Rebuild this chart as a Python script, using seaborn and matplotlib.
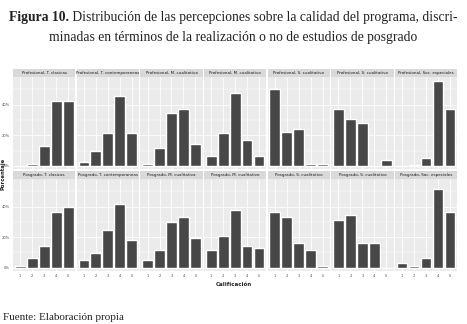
import matplotlib
matplotlib.use("Agg")
import matplotlib.pyplot as plt
import seaborn as sns
import pandas as pd
from matplotlib.patches import Rectangle

# Calificación 1..5
calificaciones = ["1", "2", "3", "4", "5"]

# panel titles (row 1: Profesional, row 2: Posgrado)
temas = ["T. clasicas", "T. contemporaneas", "M. cualitativa", "M. cualitativo",
         "S. cualitativo", "S. cualitativo", "Soc. especiales"]

# percentages
profesional = [
    [0, 1, 13, 42.6, 42.6],
    [2.6, 9.4, 21.2, 45.5, 21.2],
    [1, 11.8, 34.5, 36.9, 14.6],
    [6.6, 21.2, 47.7, 17, 6.6],
    [50.5, 22.3, 23.8, 1, 1],
    [36.9, 30.6, 27.8, 0, 3.7],
    [0, 0.8, 5.2, 55.5, 36.9],
]
posgrado = [
    [1.3, 6.2, 14.5, 36.3, 39.6],
    [4.8, 9.7, 24.9, 41.4, 18],
    [4.8, 11.5, 29.7, 33, 19.4],
    [11.5, 21.1, 38, 14.5, 12.8],
    [36.3, 33, 16.3, 11.5, 1.1],
    [31.5, 34.8, 16.3, 16.3, 0],
    [2.9, 1.1, 6.2, 51.5, 36.3],
]

y_ticks = [0, 20, 40]
y_ticklabels = ["0%", "20%", "40%"]

sns.set_style("white")
plt.rcParams['font.family'] = ['DejaVu Sans']

fig, axes = plt.subplots(2, 7, figsize=(4.67, 3.24), dpi=100, sharey=True)
fig.subplots_adjust(left=0.028, right=0.979, bottom=0.164, top=0.762,
                    wspace=0.022, hspace=0.11)

grupos = [("Profesional", profesional), ("Posgrado", posgrado)]
for r, (grupo, valores) in enumerate(grupos):
    for c, tema in enumerate(temas):
        ax = axes[r, c]
        df = pd.DataFrame({"Calificación": calificaciones, "Porcentaje": valores[c]})
        ax.set_facecolor("#EBEBEB")
        ax.set_axisbelow(True)
        sns.barplot(data=df, x="Calificación", y="Porcentaje", color="#474747",
                    saturation=1, width=0.9, ax=ax, zorder=3)
        ax.set_xlim(-0.6, 4.6)
        ax.set_ylim(-2, 58)
        ax.set_yticks(y_ticks)
        ax.set_yticks([10, 30, 50], minor=True)
        ax.grid(True, which="major", color="white", linewidth=0.6)
        ax.grid(True, which="minor", axis="y", color="white", linewidth=0.3)
        for s in ax.spines.values():
            s.set_visible(False)
        ax.set_xlabel("")
        ax.set_ylabel("")
        ax.tick_params(axis="both", which="major", length=1.5, width=0.4,
                       color="#666666", labelsize=2.6, labelcolor="#4D4D4D", pad=0.8)
        ax.tick_params(axis="both", which="minor", length=0)
        if r == 0:
            ax.tick_params(axis="x", labelbottom=False, length=0)
        if c == 0:
            ax.set_yticklabels(y_ticklabels)
        else:
            ax.tick_params(axis="y", length=0)
        # strip
        ax.add_patch(Rectangle((0, 1.0), 1, 0.088, transform=ax.transAxes,
                               facecolor="#D9D9D9", edgecolor="none", clip_on=False))
        ax.text(0.5, 1.044, f"{grupo}, {tema}", transform=ax.transAxes,
                ha="center", va="center", fontsize=2.9, color="#1A1A1A")

fig.text(0.5, 1 - 284 / 324, "Calificación", ha="center", va="center",
         fontsize=4, fontweight="bold", color="#222222")
fig.text(0.006, 1 - 174 / 324, "Porcentaje", ha="center", va="center",
         rotation=90, fontsize=3.8, fontweight="bold", color="#222222")

# title with bold lead-in
serif = ["Liberation Serif", "DejaVu Serif"]
title_size = 9.85
renderer = fig.canvas.get_renderer()
y1 = 1 - 17 / 324
t1 = fig.text(0, y1, "Figura 10.", fontsize=title_size, fontweight="bold",
              family=serif, va="center", ha="left", color="#222222")
t2 = fig.text(0, y1, " Distribución de las percepciones sobre la calidad del programa, discri-",
              fontsize=title_size, family=serif, va="center", ha="left", color="#222222")
w1 = t1.get_window_extent(renderer).width / fig.bbox.width
w2 = t2.get_window_extent(renderer).width / fig.bbox.width
x0 = 0.5 - (w1 + w2) / 2
t1.set_x(x0)
t2.set_x(x0 + w1)
fig.text(0.5, 1 - 37 / 324, "minadas en términos de la realización o no de estudios de posgrado",
         fontsize=title_size, family=serif, va="center", ha="center", color="#222222")

fig.text(0.006, 1 - 318 / 324, "Fuente: Elaboración propia", fontsize=8,
         family=serif, va="center", ha="left", color="#222222")

fig.savefig("out.png", dpi=100)
